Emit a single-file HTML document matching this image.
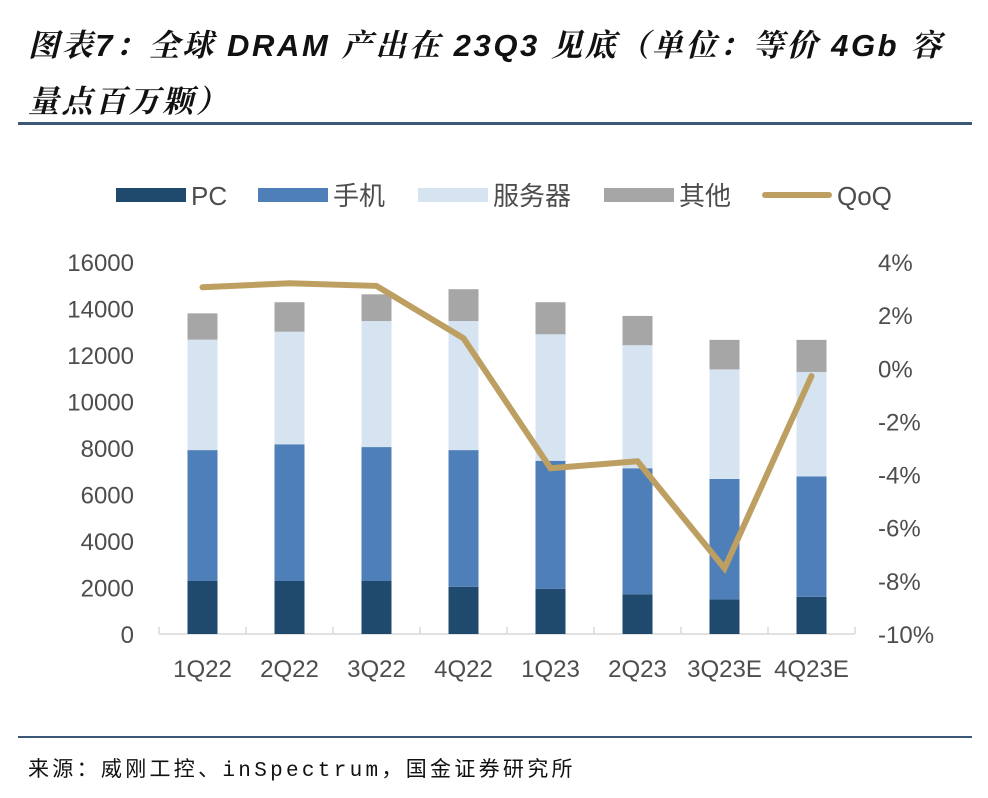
<!DOCTYPE html>
<html><head><meta charset="utf-8"><style>
body{margin:0;width:988px;height:798px;background:#fff;overflow:hidden;position:relative;font-family:"Liberation Sans","Noto Sans CJK SC",sans-serif}
.t{position:absolute;left:28px;font-size:31px;letter-spacing:2.6px;font-weight:bold;font-style:italic;color:#111;font-family:"Liberation Sans","Noto Serif CJK SC","Noto Sans CJK SC",sans-serif;white-space:nowrap}
.hr{position:absolute;left:18px;width:954px;height:3px;background:#3b5877}
.src{position:absolute;left:28px;top:753px;font-size:21px;letter-spacing:3.3px;color:#111;font-family:"Liberation Mono","Noto Sans CJK SC",monospace;white-space:nowrap}
</style></head><body>
<div class="t" style="top:20px">图表7：全球 DRAM 产出在 23Q3 见底（单位：等价 4Gb 容</div>
<div class="t" style="top:76px">量点百万颗）</div>
<div class="hr" style="top:122px"></div>
<svg id="c" width="988" height="798" style="position:absolute;left:0;top:0"></svg>
<div class="hr" style="top:736px;height:2px"></div>
<div class="src">来源：威刚工控、inSpectrum，国金证券研究所</div>
<script>
const categories=["1Q22","2Q22","3Q22","4Q22","1Q23","2Q23","3Q23E","4Q23E"];
const pc=[2280,2280,2280,2030,1940,1710,1490,1600];
const phone=[5630,5880,5760,5880,5510,5420,5180,5180];
const server=[4750,4840,5420,5550,5440,5290,4710,4490];
const other=[1130,1270,1150,1370,1380,1260,1270,1380];
const qoq=[3.05,3.2,3.1,1.13,-3.76,-3.5,-7.53,-0.29];
const leftTicks=[0,2000,4000,6000,8000,10000,12000,14000,16000];
const rightTicks=[-10,-8,-6,-4,-2,0,2,4];
const NS="http://www.w3.org/2000/svg",svg=document.getElementById('c');
const X0=159,X1=855,Y0=634,Y1=262;
const step=(X1-X0)/categories.length;
const xc=i=>X0+step*(i+0.5);
const yL=v=>Y0-(v/16000)*(Y0-Y1);
const yR=v=>Y0-((v+10)/14)*(Y0-Y1);
function el(t,a){const e=document.createElementNS(NS,t);for(const k in a)e.setAttribute(k,a[k]);svg.appendChild(e);return e;}
const txt=(x,y,s,anc,fs)=>{const e=el('text',{x:x,y:y,'text-anchor':anc,'font-size':fs||24,fill:'#4d4d4d','font-family':'"Liberation Sans","Noto Sans CJK SC",sans-serif'});e.textContent=s;return e;};
let a=el('line',{x1:X0,y1:Y0,x2:X1,y2:Y0,stroke:'#d9d9d9','stroke-width':1.5});

for(let i=0;i<=categories.length;i++){const tk=el('line',{x1:X0+step*i,y1:Y0,x2:X0+step*i,y2:Y0-7,stroke:'#d9d9d9','stroke-width':1.5});}
leftTicks.forEach(v=>{const t=txt(134,yL(v)+9,String(v),'end');});
rightTicks.forEach(v=>{const t=txt(878,yR(v)+9,v+'%','start');});
const series=[[pc,'#1f4a6e','pc'],[phone,'#4f7fb8','phone'],[server,'#d6e3f1','server'],[other,'#a6a6a6','other']];
categories.forEach((c,i)=>{
 let base=0;
 series.forEach(([arr,col,nm])=>{const r=el('rect',{x:xc(i)-15,y:yL(base+arr[i]),width:30,height:yL(base)-yL(base+arr[i]),fill:col});
 base+=arr[i];});
 const t=txt(xc(i),Y0+43,c,'middle');
});
const ln=el('polyline',{points:qoq.map((v,i)=>xc(i)+','+yR(v)).join(' '),fill:'none',stroke:'#bd9f62','stroke-width':6,'stroke-linejoin':'miter','stroke-linecap':'round'});

const leg=[['PC','#1f4a6e',116,'rect'],['手机','#4f7fb8',258,'rect'],['服务器','#d6e3f1',418,'rect'],['其他','#a6a6a6',604,'rect'],['QoQ','#bd9f62',762,'line']];
leg.forEach(([n,col,x,k])=>{
 let s;
 if(k==='rect')s=el('rect',{x:x,y:188,width:70,height:14,fill:col});
 else s=el('line',{x1:x+3,y1:195,x2:x+67,y2:195,stroke:col,'stroke-width':6,'stroke-linecap':'round'});
 
 const t=txt(x+75,205,n,'start',26);
});
</script>
</body></html>
